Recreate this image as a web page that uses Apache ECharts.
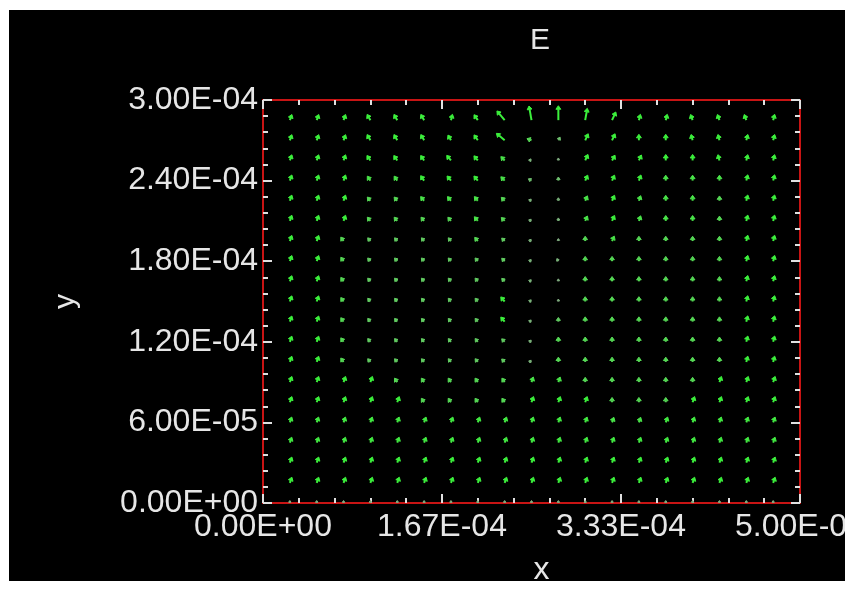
<!DOCTYPE html>
<html>
<head>
<meta charset="utf-8">
<script src="https://cdn.jsdelivr.net/npm/echarts@6/dist/echarts.min.js"></script>
<style>
  html, body { margin: 0; padding: 0; background: #ffffff; }
  #main { position: absolute; left: 9px; top: 10px; width: 836px; height: 571px; background: #000000; }
</style>
</head>
<body>
<div id="main"></div>
<script>
// grid points of the field plot
var xVals = [2.5e-5, 5.0e-5, 7.5e-5, 1.0e-4, 1.25e-4, 1.5e-4, 1.75e-4, 2.0e-4, 2.25e-4, 2.5e-4,
             2.75e-4, 3.0e-4, 3.25e-4, 3.5e-4, 3.75e-4, 4.0e-4, 4.25e-4, 4.5e-4, 4.75e-4];
var yVals = [0, 1.5e-5, 3.0e-5, 4.5e-5, 6.0e-5, 7.5e-5, 9.0e-5, 1.05e-4, 1.2e-4, 1.35e-4,
             1.5e-4, 1.65e-4, 1.8e-4, 1.95e-4, 2.1e-4, 2.25e-4, 2.4e-4, 2.55e-4, 2.7e-4, 2.85e-4];

// arrow direction (degrees from +x), one row per y, bottom row first
var angleRows = [
  [90, 90, 90, 90, 90, 90, 90, 90, 90, 90, 90, 90, 90, 90, 90, 90, 90, 90, 90],
  [70, 70, 70, 70, 70, 70, 70, 70, 70, 70, 70, 70, 70, 70, 70, 70, 70, 70, 70],
  [70, 70, 70, 70, 70, 70, 70, 70, 70, 70, 70, 70, 70, 70, 70, 70, 70, 70, 70],
  [70, 70, 70, 70, 70, 70, 70, 70, 70, 70, 70, 70, 70, 70, 70, 70, 70, 70, 70],
  [70, 70, 70, 70, 70, 70, 70, 70, 70, 70, 70, 70, 70, 70, 70, 70, 70, 70, 70],
  [70, 70, 70, 70, 70, 125, 125, 125, 125, 70, 70, 70, 90, 90, 90, 70, 70, 70, 70],
  [70, 70, 70, 70, 125, 125, 125, 125, 125, 70, 70, 90, 90, 90, 90, 90, 70, 70, 70],
  [70, 70, 125, 130, 130, 130, 130, 130, 135, 160, 90, 90, 90, 90, 90, 90, 90, 75, 75],
  [70, 70, 125, 130, 130, 130, 130, 130, 135, 160, 90, 90, 90, 90, 90, 90, 90, 75, 75],
  [70, 70, 125, 130, 130, 130, 130, 130, 130, 160, 90, 90, 90, 90, 90, 90, 90, 75, 75],
  [70, 70, 125, 130, 130, 130, 130, 130, 130, 160, 90, 90, 90, 90, 90, 90, 90, 75, 75],
  [70, 70, 125, 130, 130, 130, 130, 130, 135, 160, 90, 90, 90, 90, 90, 90, 90, 75, 75],
  [70, 70, 125, 130, 130, 130, 130, 130, 135, 160, 120, 90, 90, 90, 90, 90, 90, 75, 75],
  [70, 70, 125, 130, 130, 130, 130, 130, 135, 160, 90, 90, 65, 90, 90, 90, 90, 75, 75],
  [70, 70, 70, 130, 130, 130, 130, 130, 135, 160, 90, 65, 65, 70, 90, 90, 90, 75, 75],
  [70, 70, 70, 130, 130, 130, 130, 130, 135, 160, 90, 65, 65, 70, 90, 90, 90, 75, 75],
  [70, 70, 70, 125, 125, 125, 130, 130, 135, 150, 90, 65, 65, 70, 90, 90, 90, 75, 75],
  [70, 70, 70, 125, 125, 125, 130, 130, 135, 170, 90, 65, 60, 65, 90, 90, 105, 75, 75],
  [70, 70, 70, 120, 120, 120, 120, 125, 140, 160, 60, 65, 65, 90, 90, 105, 105, 75, 75],
  [70, 70, 70, 120, 120, 120, 75, 125, 130, 100, 90, 80, 65, 75, 75, 110, 110, 110, 75]
];

// arrow magnitude (relative), same layout
var magRows = [
  [0.3, 0.3, 0.3, 0.3, 0.3, 0.3, 0.3, 0.3, 0.3, 0.3, 0.3, 0.3, 0.3, 0.3, 0.3, 0.3, 0.3, 0.3, 0.3],
  [1, 1, 1, 1, 1, 1, 1, 1, 1, 1, 1, 1, 1, 1, 1, 1, 1, 1, 1],
  [1, 1, 1, 1, 1, 1, 1, 1, 1, 1, 1, 1, 1, 1, 1, 1, 1, 1, 1],
  [0.95, 0.95, 0.95, 0.95, 0.95, 0.95, 0.95, 0.95, 0.95, 0.95, 0.95, 0.95, 0.95, 0.95, 0.95, 0.95, 0.95, 0.95, 0.95],
  [0.95, 0.95, 0.95, 0.95, 0.95, 0.95, 0.95, 0.95, 0.95, 0.95, 0.95, 0.95, 0.9, 0.9, 0.95, 0.95, 0.95, 0.95, 0.95],
  [1, 1, 1, 1, 1, 0.8, 0.8, 0.8, 0.8, 1, 1, 1, 0.8, 0.8, 0.8, 1, 1, 1, 1],
  [1, 1, 1, 1, 0.8, 0.8, 0.8, 0.8, 0.8, 0.9, 0.9, 0.8, 0.8, 0.8, 0.8, 0.8, 1, 1, 1],
  [1, 1, 0.8, 0.7, 0.7, 0.7, 0.7, 0.7, 0.7, 0.5, 0.8, 0.8, 0.8, 0.8, 0.8, 0.8, 0.8, 1, 1],
  [1, 1, 0.8, 0.7, 0.7, 0.7, 0.7, 0.7, 0.7, 0.5, 0.8, 0.8, 0.8, 0.8, 0.8, 0.8, 0.8, 1, 1],
  [1, 1, 0.8, 0.7, 0.7, 0.7, 0.7, 0.7, 1.0, 0.5, 0.7, 0.8, 0.8, 0.8, 0.8, 0.8, 0.8, 1, 1],
  [1, 1, 0.8, 0.7, 0.7, 0.7, 0.7, 0.7, 1.0, 0.5, 0.4, 0.8, 0.8, 0.8, 0.8, 0.8, 0.8, 1, 1],
  [1, 1, 0.8, 0.7, 0.7, 0.7, 0.7, 0.7, 0.7, 0.5, 0.4, 0.8, 0.8, 0.8, 0.8, 0.8, 0.8, 1, 1],
  [1, 1, 0.8, 0.7, 0.7, 0.7, 0.7, 0.7, 0.7, 0.5, 0.5, 0.8, 0.8, 0.8, 0.8, 0.8, 0.8, 1, 1],
  [1, 1, 0.8, 0.7, 0.7, 0.7, 0.7, 0.8, 0.7, 0.5, 0.4, 0.8, 0.9, 0.8, 0.8, 0.8, 0.8, 1, 1],
  [1, 1, 1, 0.8, 0.8, 0.8, 0.8, 0.9, 0.8, 0.5, 0.5, 0.9, 1, 0.9, 0.9, 0.9, 0.8, 1, 1],
  [1, 1, 1, 0.8, 0.8, 0.9, 0.9, 0.9, 0.8, 0.5, 0.5, 0.9, 1, 0.9, 0.9, 0.9, 0.8, 1, 1],
  [1, 1, 1, 0.9, 0.9, 1, 1, 1, 0.9, 0.6, 0.6, 1, 1, 1, 0.9, 0.9, 0.9, 1, 1],
  [1, 1, 1, 1, 1, 1, 1.1, 1, 0.9, 0.5, 0.4, 1.1, 1, 1, 1, 1, 1, 1, 1],
  [1, 1, 1, 1.1, 1.1, 1.1, 1, 1.1, 1.8, 0.8, 0.6, 1.2, 1.2, 1, 1, 1, 1, 1, 1],
  [1, 1, 1, 1.1, 1.1, 1.1, 1, 1.1, 2.0, 2.4, 2.4, 2.0, 1.5, 1, 1, 1, 1, 1, 1]
];

var fieldData = [];
yVals.forEach(function (y, r) {
  xVals.forEach(function (x, c) {
    fieldData.push([x, y, angleRows[r][c], magRows[r][c]]);
  });
});

function sci(v) {
  if (Math.abs(v) < 1e-12) return '0.00E+00';
  var parts = v.toExponential(2).split('e');
  var sign = parts[1].charAt(0) === '-' ? '-' : '+';
  var d = parts[1].replace(/[+-]/, '');
  if (d.length < 2) d = '0' + d;
  return parts[0] + 'E' + sign + d;
}

function arrowColor(m) {
  var t = Math.max(0, Math.min(1, (m - 0.45) / 0.55));
  var a = [130, 175, 130], b = [60, 240, 60];
  return 'rgb(' + a.map(function (v, i) { return Math.round(v + (b[i] - v) * t); }).join(',') + ')';
}

function renderArrow(params, api) {
  var p = api.coord([api.value(0), api.value(1)]);
  var ang = api.value(2) * Math.PI / 180;
  var mag = api.value(3);
  var L = Math.max(2.5, mag * 6);
  var ux = Math.cos(ang), uy = -Math.sin(ang);
  var tip = [p[0] + ux * L, p[1] + uy * L];
  var h = Math.min(3.5, L * 0.7);
  var base = [tip[0] - ux * h, tip[1] - uy * h];
  var nx = -uy, ny = ux;
  var col = arrowColor(mag);
  return {
    type: 'group',
    children: [
      { type: 'line', shape: { x1: p[0], y1: p[1], x2: base[0], y2: base[1] },
        style: { stroke: col, lineWidth: 2 } },
      { type: 'polygon', shape: { points: [tip,
          [base[0] + nx * h * 0.7, base[1] + ny * h * 0.7],
          [base[0] - nx * h * 0.7, base[1] - ny * h * 0.7]] },
        style: { fill: col, stroke: col, lineWidth: 1 } }
    ]
  };
}

var labelFont = { color: '#e6e6e6', fontSize: 32, fontFamily: 'Liberation Sans' };
var frameLine = { show: true, onZero: false, lineStyle: { color: '#c81414', width: 2 } };
var tickStyle = { show: true, inside: true, length: 9, lineStyle: { color: '#e0e0e0', width: 2 } };
var minorStyle = { show: true, splitNumber: 5, length: 5, lineStyle: { color: '#e0e0e0', width: 2 } };

var chartDom = document.getElementById('main');
var myChart = echarts.init(chartDom);
var option = {
  backgroundColor: '#000000',
  animation: false,
  grid: { left: 254, right: 45, top: 90, bottom: 78, outerBoundsMode: 'none', containLabel: false },
  graphic: [
    { type: 'text', x: 531, y: 31,
      style: { text: 'E', fill: '#e6e6e6', font: '30px "Liberation Sans"', align: 'center', verticalAlign: 'middle' } }
  ],
  xAxis: [
    { type: 'value', min: 0, max: 5e-4, interval: 5e-4 / 3, position: 'bottom',
      name: 'x', nameLocation: 'middle', nameGap: 51,
      nameTextStyle: { color: '#e6e6e6', fontSize: 32, fontFamily: 'Liberation Sans', padding: [0, 0, 0, 20] },
      axisLine: frameLine, axisTick: tickStyle, minorTick: minorStyle,
      splitLine: { show: false },
      axisLabel: Object.assign({ margin: 8, formatter: sci, showMaxLabel: true, hideOverlap: false }, labelFont) },
    { type: 'value', min: 0, max: 5e-4, interval: 5e-4 / 3, position: 'top',
      axisLine: frameLine, axisTick: tickStyle, minorTick: minorStyle,
      splitLine: { show: false }, axisLabel: { show: false } }
  ],
  yAxis: [
    { type: 'value', min: 0, max: 3e-4, interval: 6e-5, position: 'left',
      name: 'y', nameLocation: 'middle', nameGap: 182, nameRotate: 90,
      nameTextStyle: { color: '#e6e6e6', fontSize: 30, fontFamily: 'Liberation Sans' },
      axisLine: frameLine, axisTick: tickStyle, minorTick: minorStyle,
      splitLine: { show: false },
      axisLabel: Object.assign({ margin: 5, formatter: sci }, labelFont) },
    { type: 'value', min: 0, max: 3e-4, interval: 6e-5, position: 'right',
      axisLine: frameLine, axisTick: tickStyle, minorTick: minorStyle,
      splitLine: { show: false }, axisLabel: { show: false } }
  ],
  series: [
    { type: 'custom', renderItem: renderArrow, data: fieldData,
      xAxisIndex: 0, yAxisIndex: 0, clip: false, silent: true }
  ]
};
myChart.setOption(option);
</script>
</body>
</html>
